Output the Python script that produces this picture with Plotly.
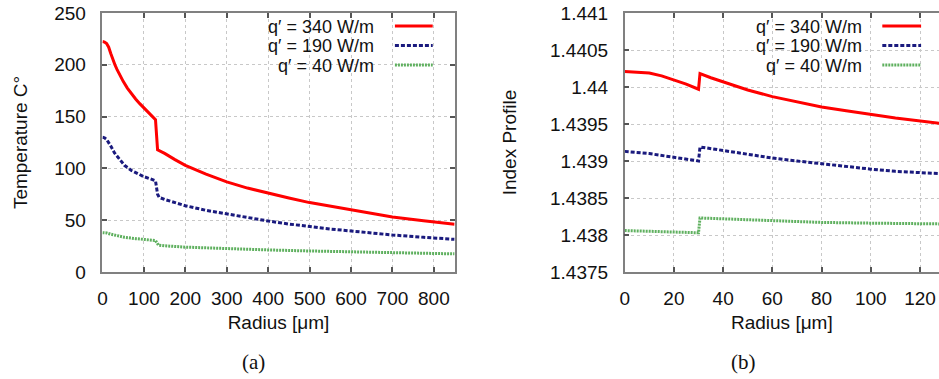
import plotly.graph_objects as go

# ---------------- data ----------------
# (a) Temperature vs radius
r_340 = [0, 5, 10, 15, 20, 25, 30, 35, 40, 50, 60, 70, 80, 90, 100, 110, 120, 128, 133, 150, 175, 200, 250,
         300, 350, 400, 450, 500, 550, 600, 650, 700, 775, 850]
T_340 = [222.5, 222, 220.5, 217, 211, 205, 200, 195.5, 191.5, 184, 177.5, 172, 167, 162.5, 158.5, 154.5, 150.5,
         147, 118, 114.5, 108.5, 103, 94.5, 87, 81, 76, 71.5, 67, 63.5, 60, 56.5, 53, 49.5, 46]
r_190 = [0, 5, 10, 15, 20, 29, 40, 53, 70, 84, 100, 115, 128, 133, 137, 150, 200, 250, 300, 350, 400, 450,
         500, 550, 600, 650, 700, 775, 850]
T_190 = [130, 129.5, 128, 125, 121.5, 115, 109, 103, 98, 95, 92, 90, 88, 75, 72, 70, 64, 59.5, 56, 52.5,
         49.2, 46.3, 43.7, 41.5, 39.6, 37.6, 35.7, 33.5, 31.5]
r_40 = [0, 10, 20, 35, 53, 80, 100, 128, 135, 150, 200, 300, 400, 500, 600, 700, 850]
T_40 = [38, 37.7, 36.5, 35, 33.5, 32.2, 31.5, 30.4, 26, 25.3, 24, 22.5, 21.3, 20.3, 19.4, 18.5, 17.5]

# (b) Index profile vs radius
rb_340 = [0, 5, 10, 15, 20, 25, 30, 30.6, 35, 40, 50, 60, 70, 80, 90, 100, 110, 128]
n_340 = [1.44021, 1.440205, 1.44019, 1.44015, 1.44010, 1.44004, 1.43997, 1.44018, 1.440125, 1.44007,
         1.43996, 1.43987, 1.43980, 1.43973, 1.43968, 1.43963, 1.43958, 1.43951]
rb_190 = [0, 10, 20, 30, 30.6, 40, 50, 60, 70, 80, 90, 100, 110, 128]
n_190 = [1.43913, 1.43910, 1.43905, 1.43900, 1.43919, 1.43914, 1.43909, 1.43904, 1.43900, 1.43896,
         1.43892, 1.43889, 1.43886, 1.43883]
rb_40 = [0, 10, 20, 30, 30.6, 40, 60, 80, 100, 128]
n_40 = [1.43806, 1.43805, 1.43804, 1.43803, 1.43823, 1.43822, 1.43819, 1.43817, 1.43816, 1.43815]

names = ["q\u2032 = 340 W/m", "q\u2032 = 190 W/m", "q\u2032 = 40 W/m"]
colors = ["#ff0000", "#1a1a7e", "#5fb05f"]
dashes = ["solid", "4px,2px", "2px,1px"]

xa_ticks = [0, 100, 200, 300, 400, 500, 600, 700, 800]
ya_ticks = [0, 50, 100, 150, 200, 250]
xb_ticks = [0, 20, 40, 60, 80, 100, 120]
yb_vals = [1.4375, 1.438, 1.4385, 1.439, 1.4395, 1.44, 1.4405, 1.441]
yb_text = ["1.4375", "1.438", "1.4385", "1.439", "1.4395", "1.44", "1.4405", "1.441"]

# ---------------- figure ----------------
W, H = 939, 379
ML, MR, MT, MB = 0, 0, 13, 107
fig = go.Figure()

for xs, ys, nm, c, d in zip([r_340, r_190, r_40], [T_340, T_190, T_40], names, colors, dashes):
    fig.add_trace(go.Scatter(x=xs, y=ys, mode="lines", name=nm, showlegend=False,
                             line=dict(color=c, width=3, dash=d), xaxis="x", yaxis="y"))
for xs, ys, nm, c, d in zip([rb_340, rb_190, rb_40], [n_340, n_190, n_40], names, colors, dashes):
    fig.add_trace(go.Scatter(x=xs, y=ys, mode="lines", name=nm, showlegend=False,
                             line=dict(color=c, width=3, dash=d), xaxis="x2", yaxis="y2"))

font = dict(family="Liberation Sans, Arial, sans-serif", size=19, color="#111")
leg_font = dict(family="Liberation Sans, Arial, sans-serif", size=18, color="#111")
axcommon = dict(showline=True, linecolor="#808080", linewidth=1.5,
                ticks="inside", ticklen=5, tickwidth=1.5, tickcolor="#555",
                showgrid=True, gridcolor="#c8c8c8", gridwidth=1, griddash="dot",
                zeroline=False, tickfont=font)


def px2fx(px):
    return px / W


fig.update_layout(
    width=W, height=H, margin=dict(l=ML, r=MR, t=MT, b=MB),
    paper_bgcolor="white", plot_bgcolor="white", showlegend=False,
    xaxis=dict(axcommon, domain=[px2fx(98), px2fx(452)], range=[0, 850], tickvals=xa_ticks,
               mirror="ticks", anchor="y", ticklabelstandoff=8,
               title=dict(text="Radius [\u03bcm]", font=font, standoff=8)),
    yaxis=dict(axcommon, domain=[0, 1], range=[0, 250], tickvals=ya_ticks, mirror="ticks", anchor="x",
               ticklabelstandoff=11,
               title=dict(text="Temperature C\u00b0", font=font, standoff=22)),
    xaxis2=dict(axcommon, domain=[px2fx(623), 1.0], range=[0, 127.7], tickvals=xb_ticks,
                mirror="ticks", anchor="y2", ticklabelstandoff=8,
                title=dict(text="Radius [\u03bcm]", font=font, standoff=8)),
    yaxis2=dict(axcommon, domain=[0, 1], range=[1.4375, 1.441], tickvals=yb_vals, ticktext=yb_text,
                mirror=False, anchor="x2", ticklabelstandoff=11,
                title=dict(text="Index Profile", font=font, standoff=28)),
)

# manual legends (text on the left, line sample on the right, gnuplot style)
def py2fy(py):
    return (H - MB - py) / (H - MT - MB)

legend_sets = [dict(text_x=372, l0=392, l1=430), dict(text_x=863, l0=882, l1=921)]
rows_y = [26, 45.5, 65]
for ls in legend_sets:
    for nm, c, d, ry in zip(names, colors, dashes, rows_y):
        fig.add_annotation(x=px2fx(ls["text_x"]), y=py2fy(ry + 1), xref="paper", yref="paper",
                           text=nm, showarrow=False, xanchor="right", yanchor="middle", font=leg_font,
                           height=18, borderpad=0)
        fig.add_shape(type="line", xref="paper", yref="paper",
                      x0=px2fx(ls["l0"]), x1=px2fx(ls["l1"]), y0=py2fy(ry), y1=py2fy(ry),
                      line=dict(color=c, width=3, dash=d))

# captions
cap_font = dict(family="Liberation Serif, Times New Roman, serif", size=21, color="#111")
fig.add_annotation(x=px2fx(250), y=py2fy(362), xref="paper", yref="paper", text="(a)",
                   showarrow=False, xanchor="center", yanchor="middle", font=cap_font)
fig.add_annotation(x=px2fx(742), y=py2fy(362), xref="paper", yref="paper", text="(b)",
                   showarrow=False, xanchor="center", yanchor="middle", font=cap_font)

fig.write_html("out.html")
